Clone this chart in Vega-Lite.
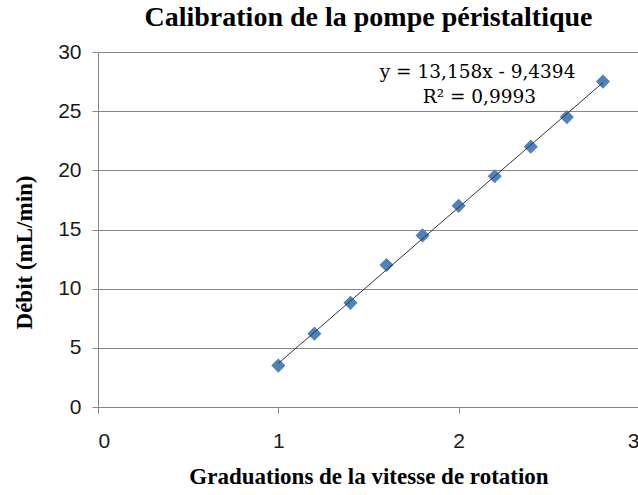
{
  "$schema": "https://vega.github.io/schema/vega-lite/v6.json",
  "width": 541,
  "height": 355,
  "autosize": {"type": "none"},
  "padding": {"left": 98, "top": 52, "right": 0, "bottom": 88},
  "background": "white",
  "title": {
    "text": "Calibration de la pompe péristaltique",
    "font": "Liberation Serif",
    "fontSize": 28,
    "fontWeight": "bold",
    "color": "#000000",
    "anchor": "middle",
    "offset": 9
  },
  "config": {
    "view": {"stroke": null},
    "axis": {
      "domainColor": "#868686",
      "tickColor": "#868686",
      "gridColor": "#868686",
      "labelFont": "Liberation Sans",
      "labelFontSize": 21,
      "labelColor": "#1a1a1a",
      "titleFont": "Liberation Serif",
      "titleFontSize": 23,
      "titleFontWeight": "bold",
      "titleColor": "#000000",
      "tickSize": 6
    }
  },
  "data": {
    "values": [
      {"x": 1.0, "y": 3.5},
      {"x": 1.2, "y": 6.2},
      {"x": 1.4, "y": 8.8},
      {"x": 1.6, "y": 12.0},
      {"x": 1.8, "y": 14.5},
      {"x": 2.0, "y": 17.0},
      {"x": 2.2, "y": 19.5},
      {"x": 2.4, "y": 22.0},
      {"x": 2.6, "y": 24.5},
      {"x": 2.8, "y": 27.5}
    ]
  },
  "layer": [
    {
      "mark": {"type": "point", "shape": "diamond", "filled": true, "size": 200, "color": "#4F81BD", "opacity": 1},
      "encoding": {
        "x": {
          "field": "x", "type": "quantitative",
          "scale": {"domain": [0, 3], "nice": false},
          "axis": {"values": [0, 1, 2, 3], "format": "d", "grid": false, "title": "Graduations de la vitesse de rotation", "titlePadding": 14, "labelPadding": 17}
        },
        "y": {
          "field": "y", "type": "quantitative",
          "scale": {"domain": [0, 30], "nice": false},
          "axis": {"values": [0, 5, 10, 15, 20, 25, 30], "format": "d", "grid": true, "title": "Débit (mL/min)", "titleX": -74, "titleY": 200, "titleAlign": "center", "titleBaseline": "middle", "labelPadding": 11}
        }
      }
    },
    {
      "transform": [{"regression": "y", "on": "x"}],
      "mark": {"type": "line", "color": "#333333", "strokeWidth": 1},
      "encoding": {
        "x": {"field": "x", "type": "quantitative"},
        "y": {"field": "y", "type": "quantitative"}
      }
    },
    {
      "data": {
        "values": [
          {"x": 2.105, "y": 28.3, "t": "y = 13,158x - 9,4394"},
          {"x": 2.115, "y": 26.2, "t": "R² = 0,9993"}
        ]
      },
      "mark": {"type": "text", "font": "DejaVu Serif", "fontSize": 18.5, "color": "#000000", "align": "center", "baseline": "middle"},
      "encoding": {
        "x": {"field": "x", "type": "quantitative"},
        "y": {"field": "y", "type": "quantitative"},
        "text": {"field": "t"}
      }
    }
  ]
}
